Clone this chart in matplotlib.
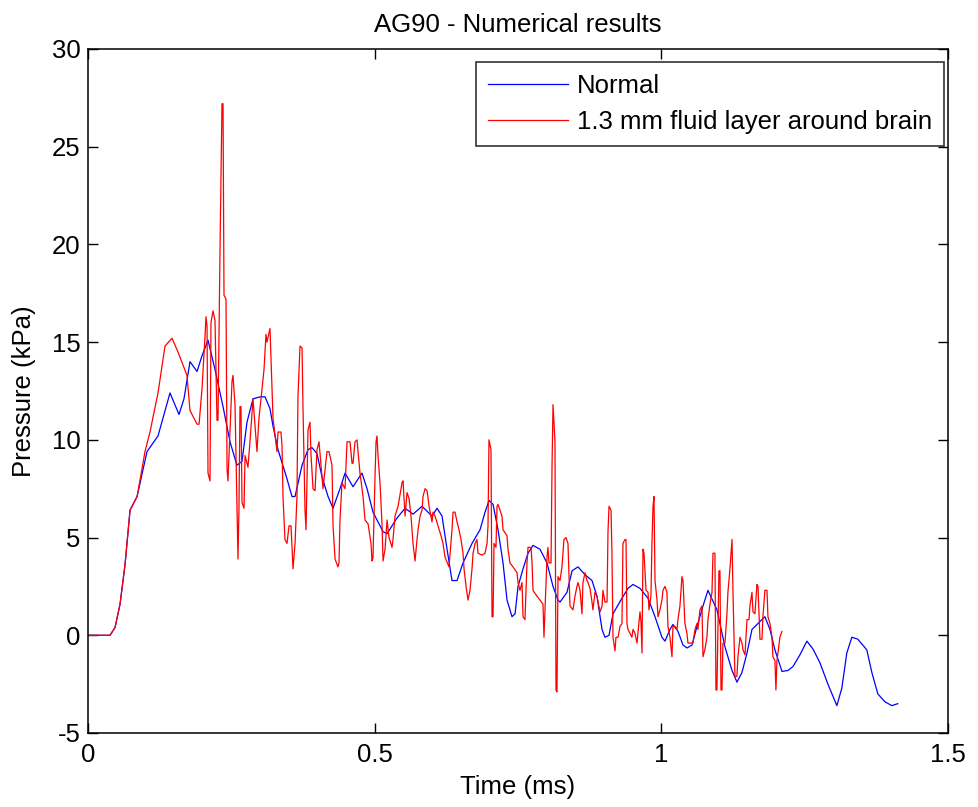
import matplotlib
matplotlib.use("Agg")
import matplotlib.pyplot as plt

plt.rcParams['font.family'] = ['Liberation Sans', 'DejaVu Sans']
plt.rcParams['axes.unicode_minus'] = False

# ---- data: Normal (blue) ----
t_normal = [0.0, 0.0384, 0.0472, 0.0559, 0.0645, 0.0733, 0.0856, 0.1029, 0.1221, 0.1430,
            0.1587, 0.1674, 0.1779, 0.1902, 0.1988, 0.2093, 0.2215, 0.2355, 0.2477, 0.2598,
            0.2686, 0.2773, 0.2878, 0.3000, 0.3088, 0.3174, 0.3227, 0.3314, 0.3471, 0.3558,
            0.3611, 0.3733, 0.3837, 0.3907, 0.3994, 0.4082, 0.4187, 0.4274, 0.4395, 0.4483,
            0.4622, 0.4779, 0.4867, 0.4971, 0.5146, 0.5216, 0.5390, 0.5530, 0.5669, 0.5826,
            0.6000, 0.6088, 0.6175, 0.6263, 0.6349, 0.6437, 0.6541, 0.6698, 0.6838, 0.6925,
            0.6995, 0.7065, 0.7152, 0.7239, 0.7309, 0.7396, 0.7449, 0.7501, 0.7588, 0.7675,
            0.7762, 0.7884, 0.8006, 0.8111, 0.8198, 0.8233, 0.8355, 0.8443, 0.8547, 0.8669,
            0.8791, 0.8878, 0.8966, 0.9017, 0.9088, 0.9157, 0.9314, 0.9419, 0.9506, 0.9628,
            0.9768, 0.9890, 1.0011, 1.0064, 1.0151, 1.0203, 1.0291, 1.0378, 1.0448, 1.0535,
            1.0622, 1.0727, 1.0814, 1.0971, 1.1111, 1.1233, 1.1320, 1.1407, 1.1495, 1.1581,
            1.1686, 1.1807, 1.1895, 1.1982, 1.2105, 1.2209, 1.2296, 1.2418, 1.2539, 1.2645,
            1.2766, 1.2906, 1.3062, 1.3149, 1.3236, 1.3324, 1.3428, 1.3585, 1.3672, 1.3777,
            1.3899, 1.4021, 1.4125]
p_normal = [0.0, 0.0, 0.4, 1.6, 3.6, 6.4, 7.1, 9.4, 10.2, 12.4,
            11.3, 12.1, 14.0, 13.5, 14.3, 15.1, 13.6, 11.7, 9.9, 8.7,
            8.9, 10.9, 12.1, 12.2, 12.2, 11.6, 10.7, 9.5, 8.0, 7.1,
            7.1, 8.7, 9.5, 9.6, 9.3, 8.1, 7.1, 6.5, 7.5, 8.3,
            7.6, 8.3, 7.5, 6.3, 5.3, 5.2, 6.0, 6.5, 6.2, 6.6,
            6.1, 6.5, 6.1, 4.4, 2.8, 2.8, 3.7, 4.7, 5.4, 6.3,
            6.9, 6.7, 5.4, 3.7, 1.8, 0.95, 1.1, 2.5, 3.4, 4.2,
            4.6, 4.4, 3.7, 2.5, 1.8, 1.7, 2.2, 3.3, 3.5, 3.1,
            2.8, 2.0, 0.3, -0.1, 0.0, 1.1, 1.9, 2.4, 2.6, 2.4,
            1.9, 0.95, -0.1, -0.3, 0.3, 0.55, 0.2, -0.5, -0.65, -0.5,
            0.45, 1.5, 2.3, 1.3, -0.6, -1.8, -2.4, -1.9, -0.9, 0.3,
            0.6, 0.95, 0.3, -0.75, -1.85, -1.8, -1.6, -1.0, -0.3, -0.7,
            -1.4, -2.5, -3.6, -2.7, -0.9, -0.1, -0.2, -0.75, -1.9, -3.0,
            -3.4, -3.6, -3.5]

# ---- data: 1.3 mm fluid layer around brain (red) ----
t_fluid = [0.0, 0.0384, 0.0472, 0.0559, 0.0645, 0.0733, 0.0856, 0.0994, 0.1081, 0.1221,
           0.1343, 0.1465, 0.1569, 0.1726, 0.1779, 0.1902, 0.1937, 0.1988, 0.2041, 0.2058,
           0.2076, 0.2093, 0.2128, 0.2145, 0.2180, 0.2215, 0.2250, 0.2267, 0.2302, 0.2337,
           0.2355, 0.2372, 0.2407, 0.2425, 0.2441, 0.2512, 0.2529, 0.2564, 0.2598, 0.2616,
           0.2633, 0.2651, 0.2668, 0.2686, 0.2721, 0.2739, 0.2790, 0.2825, 0.2878, 0.2947,
           0.2982, 0.3035, 0.3070, 0.3104, 0.3122, 0.3174, 0.3209, 0.3227, 0.3296, 0.3314,
           0.3366, 0.3384, 0.3401, 0.3435, 0.3471, 0.3506, 0.3541, 0.3576, 0.3611, 0.3645,
           0.3662, 0.3698, 0.3733, 0.3750, 0.3785, 0.3803, 0.3837, 0.3872, 0.3890, 0.3925,
           0.3960, 0.3994, 0.4029, 0.4064, 0.4099, 0.4168, 0.4203, 0.4256, 0.4274, 0.4309,
           0.4360, 0.4378, 0.4395, 0.4430, 0.4483, 0.4518, 0.4570, 0.4605, 0.4622, 0.4657,
           0.4693, 0.4710, 0.4744, 0.4797, 0.4832, 0.4885, 0.4936, 0.4954, 0.4971, 0.5006,
           0.5024, 0.5041, 0.5058, 0.5093, 0.5128, 0.5146, 0.5181, 0.5216, 0.5250, 0.5303,
           0.5320, 0.5355, 0.5408, 0.5477, 0.5495, 0.5530, 0.5565, 0.5600, 0.5634, 0.5669,
           0.5704, 0.5739, 0.5757, 0.5792, 0.5826, 0.5843, 0.5879, 0.5914, 0.5949, 0.6000,
           0.6018, 0.6053, 0.6105, 0.6157, 0.6192, 0.6227, 0.6297, 0.6349, 0.6367, 0.6402,
           0.6437, 0.6471, 0.6506, 0.6541, 0.6559, 0.6594, 0.6628, 0.6663, 0.6698, 0.6716,
           0.6751, 0.6785, 0.6802, 0.6873, 0.6925, 0.6960, 0.6977, 0.6994, 0.7029, 0.7047,
           0.7065, 0.7082, 0.7116, 0.7134, 0.7151, 0.7186, 0.7221, 0.7239, 0.7308, 0.7326,
           0.7361, 0.7413, 0.7483, 0.7500, 0.7535, 0.7570, 0.7588, 0.7622, 0.7657, 0.7675,
           0.7727, 0.7745, 0.7762, 0.7831, 0.7884, 0.7936, 0.7953, 0.7971, 0.8006, 0.8023,
           0.8041, 0.8076, 0.8094, 0.8111, 0.8145, 0.8163, 0.8180, 0.8198, 0.8233, 0.8267,
           0.8302, 0.8337, 0.8372, 0.8390, 0.8407, 0.8459, 0.8494, 0.8529, 0.8547, 0.8582,
           0.8616, 0.8633, 0.8669, 0.8704, 0.8721, 0.8756, 0.8791, 0.8808, 0.8843, 0.8878,
           0.8896, 0.8931, 0.8966, 0.8982, 0.9017, 0.9053, 0.9070, 0.9088, 0.9123, 0.9139,
           0.9157, 0.9192, 0.9209, 0.9245, 0.9279, 0.9314, 0.9331, 0.9366, 0.9384, 0.9401,
           0.9419, 0.9488, 0.9506, 0.9541, 0.9576, 0.9628, 0.9645, 0.9663, 0.9680, 0.9698,
           0.9733, 0.9768, 0.9785, 0.9819, 0.9837, 0.9855, 0.9872, 0.9890, 0.9925, 0.9942,
           0.9976, 1.0011, 1.0029, 1.0064, 1.0098, 1.0116, 1.0151, 1.0186, 1.0203, 1.0238,
           1.0273, 1.0290, 1.0325, 1.0360, 1.0378, 1.0412, 1.0447, 1.0465, 1.0552, 1.0587,
           1.0622, 1.0639, 1.0674, 1.0709, 1.0727, 1.0762, 1.0796, 1.0813, 1.0849, 1.0884,
           1.0901, 1.0935, 1.0953, 1.0970, 1.1005, 1.1023, 1.1041, 1.1058, 1.1075, 1.1110,
           1.1145, 1.1162, 1.1197, 1.1233, 1.1250, 1.1284, 1.1319, 1.1337, 1.1372, 1.1407,
           1.1425, 1.1460, 1.1494, 1.1529, 1.1546, 1.1581, 1.1599, 1.1633, 1.1668, 1.1686,
           1.1721, 1.1756, 1.1772, 1.1807, 1.1843, 1.1860, 1.1895, 1.1930, 1.1947, 1.1982,
           1.1999, 1.2017, 1.2035, 1.2069, 1.2104]
p_fluid = [0.0, 0.0, 0.4, 1.6, 3.6, 6.4, 7.1, 9.4, 10.4, 12.4,
           14.8, 15.2, 14.5, 13.3, 11.5, 10.8, 10.8, 12.6, 15.3, 16.3,
           15.8, 8.3, 7.9, 16.0, 16.6, 16.1, 11.0, 11.0, 19.6, 27.2,
           27.2, 17.4, 17.2, 8.5, 7.9, 13.0, 13.3, 11.8, 6.8, 3.9,
           6.5, 11.7, 11.7, 6.8, 6.5, 9.2, 8.6, 9.9, 12.1, 9.4,
           11.1, 12.6, 13.6, 15.4, 15.0, 15.7, 12.6, 11.1, 9.4, 10.4,
           10.4, 9.7, 7.1, 4.9, 4.7, 5.6, 5.6, 3.4, 4.7, 7.1,
           12.2, 14.8, 14.7, 11.6, 6.4, 5.4, 10.5, 10.9, 9.2, 7.5,
           7.4, 9.5, 9.9, 8.7, 7.5, 9.4, 9.4, 8.7, 5.6, 3.9,
           3.5, 3.7, 5.9, 7.8, 7.5, 9.9, 9.9, 8.8, 8.8, 9.9,
           10.0, 9.4, 8.3, 7.1, 5.9, 5.7, 4.7, 3.8, 4.0, 8.1,
           9.9, 10.2, 9.2, 7.8, 5.7, 3.8, 4.4, 5.9, 5.0, 4.5,
           4.9, 6.1, 6.6, 7.8, 7.9, 6.1, 7.3, 7.0, 6.1, 4.7,
           3.8, 4.9, 5.4, 6.1, 6.4, 7.1, 7.5, 7.4, 6.6, 5.8,
           6.3, 6.1, 5.6, 5.1, 4.7, 4.0, 3.5, 5.4, 6.3, 6.3,
           5.8, 5.4, 4.9, 4.2, 3.4, 2.5, 1.8, 2.3, 3.4, 4.2,
           4.7, 4.9, 4.2, 4.1, 4.2, 4.7, 5.6, 10.0, 9.5, 0.95,
           0.95, 4.7, 4.5, 6.6, 6.7, 6.4, 6.1, 5.4, 5.1, 4.4,
           3.7, 3.5, 3.2, 2.7, 2.3, 2.7, 0.95, 0.8, 3.7, 4.5,
           4.5, 3.7, 2.3, 2.0, 1.8, 1.6, -0.1, 1.3, 4.0, 4.5,
           3.7, 3.7, 8.7, 11.8, 9.9, -2.8, -2.9, 3.0, 2.8, 3.5,
           4.9, 5.0, 4.7, 3.0, 1.5, 1.3, 2.0, 2.5, 2.7, 2.3,
           1.1, 2.7, 3.2, 2.8, 2.7, 2.4, 1.7, 1.3, 2.2, 2.0,
           1.7, 1.2, 1.5, 2.3, 1.7, 1.7, 5.3, 6.6, 6.4, 4.2,
           -0.1, -0.8, -0.1, -0.1, 0.45, 0.6, 4.7, 4.9, 4.9, 0.6,
           0.3, -0.1, 0.3, 0.1, -0.4, 1.2, 0.7, -0.9, 4.4, 4.2,
           2.3, 2.2, 1.3, 2.0, 4.7, 6.6, 7.1, 2.8, 1.8, 0.95,
           1.3, 1.8, 2.3, 2.5, 2.2, 0.45, -0.1, -1.1, 0.45, 0.45,
           0.3, 0.8, 1.5, 3.0, 2.8, 0.6, 0.1, -0.4, -0.4, 0.3,
           0.6, 0.3, 1.3, 1.5, -1.1, -0.7, -0.1, 0.8, 1.6, 2.2,
           4.2, 4.2, -2.8, -2.8, 3.3, 3.3, -2.8, -2.8, -0.4, -0.4,
           1.1, 2.2, 3.4, 4.9, 2.2, -2.1, -2.1, -1.1, -0.1, -0.4,
           -0.75, -1.0, 0.8, 0.8, 1.5, 2.2, 1.2, 1.1, 2.6, 2.5,
           -0.2, -0.2, 0.95, 2.3, 2.3, 0.95, 0.6, -0.1, -1.1, -1.3,
           -2.8, -1.3, -0.9, -0.1, 0.2]

labels = ['Normal', '1.3 mm fluid layer around brain']
x_ticks = [0, 0.5, 1, 1.5]
x_ticklabels = ['0', '0.5', '1', '1.5']
y_ticks = [-5, 0, 5, 10, 15, 20, 25, 30]

FS = 18.5

fig = plt.figure(figsize=(9.79, 8.07), dpi=100)
ax = fig.add_axes([0.0899, 0.0917, 0.8784, 0.8476])

ax.plot(t_normal, p_normal, color='#0000ff', lw=0.9, label=labels[0])
ax.plot(t_fluid, p_fluid, color='#ff0000', lw=0.9, label=labels[1])

ax.set_xlim(0, 1.5)
ax.set_ylim(-5, 30)
ax.set_xticks(x_ticks)
ax.set_xticklabels(x_ticklabels)
ax.set_yticks(y_ticks)
ax.tick_params(direction='in', length=7, width=1, top=True, right=True,
               labelsize=FS, colors='black')
ax.tick_params(axis='x', pad=7)
ax.tick_params(axis='y', pad=5.5)
for s in ax.spines.values():
    s.set_linewidth(1.1)
    s.set_color('black')

ax.set_xlabel('Time (ms)', fontsize=FS, labelpad=6)
ax.set_ylabel('Pressure (kPa)', fontsize=FS, labelpad=11)
ax.set_title('AG90 - Numerical results', fontsize=FS, pad=12)

leg = ax.legend(loc='upper right', bbox_to_anchor=(0.9953, 0.981), borderaxespad=0,
                fontsize=FS, frameon=True, fancybox=False, handlelength=3.1,
                handletextpad=0.34, labelspacing=0.48, borderpad=0.47)
leg.get_frame().set_edgecolor('black')
leg.get_frame().set_linewidth(1.2)

fig.savefig('out.png', dpi=100)
